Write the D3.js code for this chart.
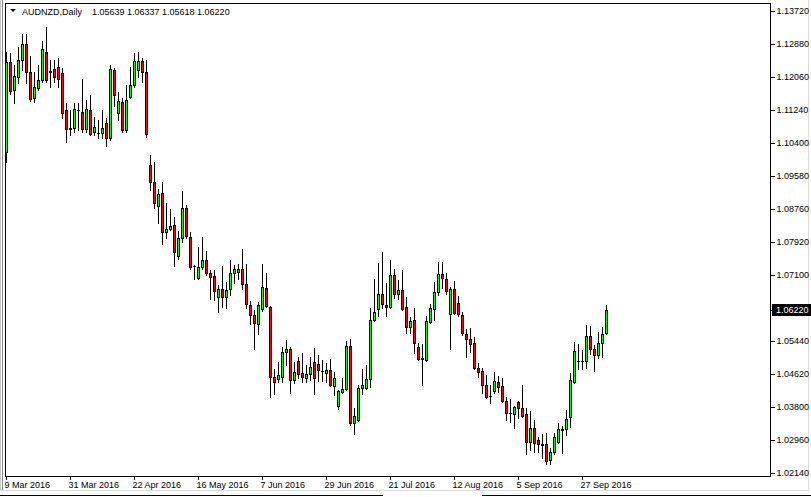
<!DOCTYPE html>
<html>
<head>
<meta charset="utf-8">
<script src="https://cdn.jsdelivr.net/npm/d3@7"></script>
<style>
  body { margin: 0; background: #fff; }
  svg { display: block; }
  text { font-family: "Liberation Sans", Arial, sans-serif; font-size: 9px; fill: #000; }
</style>
</head>
<body>
<div id="chart"></div>
<script>
// AUDNZD daily candles, 9 Mar 2016 - 5 Oct 2016
var symbol = "AUDNZD,Daily";

var openPrices = [
  1.1018,1.1243,1.1173,1.1205,1.1248,1.1288,1.1218,1.1153,1.1178,1.1198,
  1.1268,1.1221,1.1226,1.1231,1.1215,1.1123,1.1077,1.1078,1.1124,1.1118,
  1.1075,1.1123,1.1068,1.1066,1.1065,1.1090,1.1053,1.1223,1.1115,1.1143,
  1.1073,1.1155,1.1185,1.1223,1.1245,1.1218,1.0985,1.0942,1.0882,1.0915,
  1.0817,1.0825,1.0835,1.0757,1.0802,1.0877,1.0805,1.0733,1.0702,1.0729,
  1.0747,1.0714,1.0707,1.0654,1.0674,1.0654,1.0674,1.0714,1.0717,1.0724,
  1.0687,1.0634,1.0609,1.0587,1.0624,1.0677,1.0629,1.0454,1.0449,1.0454,
  1.0517,1.0524,1.0446,1.0494,1.0464,1.0451,1.0461,1.0491,1.0486,1.0470,
  1.0464,1.0471,1.0431,1.0381,1.0416,1.0424,1.0532,1.0339,1.0346,1.0426,
  1.0426,1.0449,1.0597,1.0624,1.0662,1.0634,1.0629,1.0709,1.0662,1.0672,
  1.0629,1.0579,1.0597,1.0529,1.0502,1.0497,1.0592,1.0624,1.0667,1.0712,
  1.0699,1.0612,1.0674,1.0639,1.0609,1.0562,1.0549,1.0539,1.0476,1.0469,
  1.0434,1.0407,1.0419,1.0441,1.0431,1.0394,1.0365,1.0361,1.0391,1.0376,
  1.0361,1.0291,1.0326,1.0296,1.0285,1.0286,1.0246,1.0266,1.0291,1.0321,
  1.0324,1.0354,1.0441,1.0495,1.0494,1.0494,1.0557,1.0524,1.0509,1.0539,
  1.05639
];

var highPrices = [
  1.1268,1.1266,1.1236,1.1281,1.1313,1.1313,1.1258,1.1218,1.1236,1.1296,
  1.1331,1.1248,1.1248,1.1253,1.1228,1.1140,1.1123,1.1140,1.1140,1.1200,
  1.1148,1.1160,1.1105,1.1098,1.1123,1.1103,1.1236,1.1228,1.1168,1.1153,
  1.1185,1.1231,1.1266,1.1268,1.1253,1.1248,1.1010,1.0993,1.0925,1.0942,
  1.0890,1.0875,1.0855,1.0820,1.0920,1.0885,1.0817,1.0734,1.0780,1.0805,
  1.0770,1.0722,1.0722,1.0684,1.0732,1.0692,1.0747,1.0734,1.0737,1.0775,
  1.0737,1.0644,1.0622,1.0642,1.0737,1.0714,1.0631,1.0474,1.0491,1.0529,
  1.0547,1.0529,1.0491,1.0504,1.0514,1.0484,1.0504,1.0526,1.0509,1.0497,
  1.0489,1.0499,1.0466,1.0421,1.0451,1.0544,1.0549,1.0376,1.0434,1.0474,
  1.0484,1.0627,1.0699,1.0740,1.0767,1.0689,1.0747,1.0724,1.0697,1.0722,
  1.0654,1.0604,1.0627,1.0539,1.0537,1.0607,1.0637,1.0692,1.0742,1.0742,
  1.0714,1.0679,1.0694,1.0657,1.0617,1.0574,1.0577,1.0554,1.0489,1.0476,
  1.0459,1.0434,1.0466,1.0456,1.0451,1.0404,1.0399,1.0381,1.0394,1.0434,
  1.0376,1.0369,1.0346,1.0303,1.0311,1.0313,1.0276,1.0313,1.0339,1.0331,
  1.0371,1.0464,1.0542,1.0537,1.0522,1.0584,1.0582,1.0534,1.0567,1.0579,
  1.06337
];

var lowPrices = [
  1.0993,1.1163,1.1140,1.1190,1.1223,1.1190,1.1145,1.1143,1.1173,1.1193,
  1.1193,1.1180,1.1193,1.1180,1.1103,1.1043,1.1060,1.1068,1.1073,1.1068,
  1.1068,1.1060,1.1060,1.1053,1.1053,1.1033,1.1048,1.1133,1.1098,1.1068,
  1.1068,1.1153,1.1180,1.1205,1.1193,1.1055,1.0922,1.0877,1.0840,1.0787,
  1.0802,1.0822,1.0732,1.0749,1.0792,1.0802,1.0724,1.0699,1.0700,1.0724,
  1.0709,1.0649,1.0647,1.0617,1.0629,1.0627,1.0659,1.0689,1.0699,1.0674,
  1.0627,1.0587,1.0524,1.0562,1.0619,1.0629,1.0404,1.0411,1.0442,1.0442,
  1.0484,1.0414,1.0439,1.0451,1.0442,1.0442,1.0446,1.0411,1.0444,1.0444,
  1.0442,1.0431,1.0409,1.0373,1.0414,1.0421,1.0334,1.0311,1.0344,1.0411,
  1.0424,1.0429,1.0594,1.0607,1.0627,1.0607,1.0627,1.0652,1.0649,1.0622,
  1.0564,1.0564,1.0514,1.0497,1.0434,1.0494,1.0589,1.0597,1.0659,1.0677,
  1.0662,1.0524,1.0612,1.0607,1.0559,1.0504,1.0517,1.0474,1.0454,1.0414,
  1.0401,1.0389,1.0414,1.0416,1.0391,1.0346,1.0341,1.0326,1.0351,1.0354,
  1.0261,1.0271,1.0266,1.0266,1.0251,1.0236,1.0236,1.0261,1.0288,1.0263,
  1.0309,1.0329,1.0439,1.0474,1.0474,1.0476,1.0512,1.0469,1.0502,1.0504,
  1.05618
];

var closePrices = [
  1.1243,1.1170,1.1208,1.1248,1.1288,1.1218,1.1150,1.1180,1.1198,1.1276,
  1.1198,1.1219,1.1206,1.1201,1.1115,1.1075,1.1076,1.1125,1.1122,1.1075,
  1.1125,1.1063,1.1080,1.1065,1.1078,1.1053,1.1226,1.1160,1.1145,1.1073,
  1.1148,1.1185,1.1245,1.1245,1.1218,1.1063,1.0942,1.0890,1.0912,1.0817,
  1.0825,1.0832,1.0767,1.0802,1.0877,1.0807,1.0729,1.0731,1.0729,1.0747,
  1.0714,1.0704,1.0669,1.0674,1.0654,1.0672,1.0714,1.0724,1.0724,1.0687,
  1.0637,1.0609,1.0589,1.0634,1.0679,1.0632,1.0454,1.0442,1.0459,1.0517,
  1.0524,1.0446,1.0466,1.0461,1.0454,1.0461,1.0479,1.0451,1.0471,1.0469,
  1.0471,1.0434,1.0451,1.0419,1.0424,1.0532,1.0339,1.0356,1.0426,1.0434,
  1.0449,1.0597,1.0617,1.0662,1.0637,1.0629,1.0709,1.0662,1.0672,1.0624,
  1.0579,1.0594,1.0539,1.0499,1.0499,1.0594,1.0627,1.0667,1.0712,1.0702,
  1.0669,1.0674,1.0614,1.0612,1.0564,1.0549,1.0537,1.0476,1.0466,1.0434,
  1.0404,1.0406,1.0444,1.0429,1.0394,1.0364,1.0363,1.0379,1.0376,1.0356,
  1.0291,1.0326,1.0288,1.0286,1.0283,1.0243,1.0266,1.0303,1.0324,1.0324,
  1.0349,1.0446,1.0519,1.0494,1.0495,1.0557,1.0524,1.0509,1.0539,1.0562,
  1.06220
];

// date labels sit every 16 bars
var dateTickBars = [0, 16, 32, 48, 64, 80, 96, 112, 128, 144];
var dateTickLabels = ["9 Mar 2016", "31 Mar 2016", "22 Apr 2016", "16 May 2016", "7 Jun 2016",
  "29 Jun 2016", "21 Jul 2016", "12 Aug 2016", "5 Sep 2016", "27 Sep 2016"];

var priceTicks = [1.13720, 1.12880, 1.12060, 1.11240, 1.10400, 1.09580, 1.08760,
  1.07920, 1.07100, 1.05440, 1.04620, 1.03800, 1.02960, 1.02140];

var svgWidth = 811;
var svgHeight = 497;

// chart frame in window pixels
var frame = { left: 5, top: 3, right: 770, bottom: 476 };

var svg = d3.select("#chart")
  .append("svg")
  .attr("width", svgWidth)
  .attr("height", svgHeight);

var bars = openPrices.map(function(o, i) {
  return { i: i, open: o, high: highPrices[i], low: lowPrices[i], close: closePrices[i] };
});

//scales
var xScale = d3.scaleLinear()
  .domain([0, bars.length - 1])
  .range([6, 6 + 4 * (bars.length - 1)]);

var yScale = d3.scaleLinear()
  .domain([1.0214, 1.1372])
  .range([472.8, 10.5]);

//window chrome
svg.append("line").attr("x1", 0.5).attr("x2", 0.5).attr("y1", 0).attr("y2", 490)
  .attr("stroke", "#c8c8c8");
svg.append("line").attr("x1", 2.5).attr("x2", 2.5).attr("y1", 0).attr("y2", 490)
  .attr("stroke", "#8a8a8a");
svg.append("line").attr("x1", 0).attr("x2", 808).attr("y1", 490.5).attr("y2", 490.5)
  .attr("stroke", "#dcdcdc");
svg.append("line").attr("x1", 808.5).attr("x2", 808.5).attr("y1", 0).attr("y2", 491)
  .attr("stroke", "#dcdcdc");
svg.append("line").attr("x1", 0).attr("x2", 383).attr("y1", 495.5).attr("y2", 495.5)
  .attr("stroke", "#000");
svg.append("line").attr("x1", 482).attr("x2", 811).attr("y1", 495.5).attr("y2", 495.5)
  .attr("stroke", "#000");

//frame
svg.append("rect")
  .attr("x", frame.left + 0.5)
  .attr("y", frame.top + 0.5)
  .attr("width", frame.right - frame.left)
  .attr("height", frame.bottom - frame.top)
  .attr("fill", "none")
  .attr("stroke", "#000")
  .attr("shape-rendering", "crispEdges");

//axes
var rightAxis = d3.axisRight(yScale)
  .tickValues(priceTicks)
  .tickFormat(d3.format(".5f"))
  .tickSize(4)
  .tickPadding(2);

var yAxisGroup = svg.append("g")
  .attr("transform", "translate(" + (frame.right + 0.5) + ",0)")
  .call(rightAxis);
yAxisGroup.select(".domain").remove();
yAxisGroup.selectAll("line").attr("shape-rendering", "crispEdges");
yAxisGroup.selectAll("text")
  .attr("font-family", "Liberation Sans, Arial, sans-serif")
  .attr("font-size", 9);

var bottomAxis = d3.axisBottom(xScale)
  .tickValues(dateTickBars)
  .tickFormat(function(d, i) { return dateTickLabels[i]; })
  .tickSize(3)
  .tickPadding(2);

var xAxisGroup = svg.append("g")
  .attr("transform", "translate(0," + (frame.bottom + 0.5) + ")")
  .call(bottomAxis);
xAxisGroup.select(".domain").remove();
xAxisGroup.selectAll(".tick").attr("transform", function(d) {
  return "translate(" + (Math.round(xScale(d)) + 0.5) + ",0)";
});
xAxisGroup.selectAll("line").attr("shape-rendering", "crispEdges");
xAxisGroup.selectAll("text")
  .attr("text-anchor", "start")
  .attr("x", -2)
  .attr("font-family", "Liberation Sans, Arial, sans-serif")
  .attr("font-size", 9);

//candles
var candleGroup = svg.append("g").attr("shape-rendering", "crispEdges");

var candles = candleGroup.selectAll("g.candle")
  .data(bars)
  .enter()
  .append("g")
  .attr("class", "candle");

candles.append("line")
  .attr("x1", d => Math.round(xScale(d.i)) + 0.5)
  .attr("x2", d => Math.round(xScale(d.i)) + 0.5)
  .attr("y1", d => Math.round(yScale(d.high)))
  .attr("y2", d => Math.round(yScale(d.low)) + 1)
  .attr("stroke", "#000");

candles.each(function(d) {
  var g = d3.select(this);
  var px = Math.round(xScale(d.i));
  var top = Math.round(yScale(Math.max(d.open, d.close)));
  var bot = Math.round(yScale(Math.min(d.open, d.close)));
  if (bot - top < 1) {
    g.append("line")
      .attr("x1", px - 1).attr("x2", px + 2)
      .attr("y1", top + 0.5).attr("y2", top + 0.5)
      .attr("stroke", "#000");
  } else {
    g.append("rect")
      .attr("x", px - 0.5)
      .attr("y", top + 0.5)
      .attr("width", 2)
      .attr("height", bot - top)
      .attr("fill", d.close > d.open ? "#00ff00" : "#ff0000")
      .attr("stroke", "#000");
  }
});

//header
var last = bars[bars.length - 1];
svg.append("path")
  .attr("d", "M10,9 L16,9 L13,12 Z")
  .attr("fill", "#000");
svg.append("text")
  .attr("x", 22)
  .attr("y", 15)
  .text(symbol);
svg.append("text")
  .attr("x", 92)
  .attr("y", 15)
  .text([last.open, last.high, last.low, last.close].map(d3.format(".5f")).join(" "));

//current price label
var lastY = Math.round(yScale(last.close));
svg.append("rect")
  .attr("x", 772)
  .attr("y", lastY - 6)
  .attr("width", 39)
  .attr("height", 12)
  .attr("fill", "#000");
svg.append("line")
  .attr("x1", 770).attr("x2", 774)
  .attr("y1", lastY + 0.5).attr("y2", lastY + 0.5)
  .attr("stroke", "#000");
svg.append("text")
  .attr("x", 776)
  .attr("y", lastY)
  .attr("dy", "0.32em")
  .style("fill", "#fff")
  .text(d3.format(".5f")(last.close));
</script>
</body>
</html>
